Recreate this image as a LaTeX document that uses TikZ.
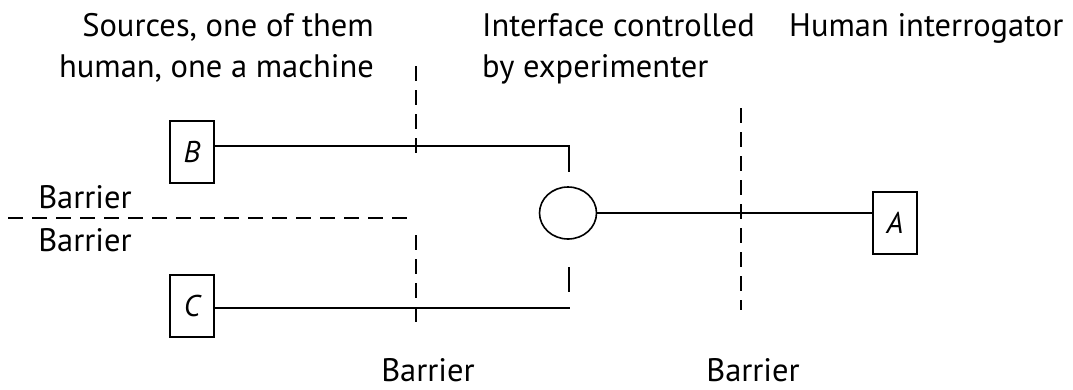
\documentclass[tikz,border=0pt]{standalone}
\usepackage{fontspec}
\setmainfont{PT Sans}
\usetikzlibrary{shapes.geometric}
\begin{document}
\begin{tikzpicture}[x=1pt,y=-1pt,
  every node/.style={font=\fontsize{32.5}{40}\selectfont, inner sep=0pt},
  agent/.style={draw, line width=2.6pt, minimum width=44pt, minimum height=62pt, font=\fontsize{30}{32}\selectfont\itshape},
  wire/.style={line width=1.6pt},
  barrier/.style={line width=1.6pt, dash pattern=on 15pt off 9pt},
  lbl/.style={anchor=base}]
\useasboundingbox (0,0) rectangle (1073,389);

% headings
\node[lbl, anchor=base east] (src1) at (374,36) {Sources, one of them};
\node[lbl, anchor=base east] (src2) at (374,77) {human, one a machine};
\node[lbl, anchor=base west] (ifc1) at (482,36) {Interface controlled};
\node[lbl, anchor=base west] (ifc2) at (482,77) {by experimenter};
\node[lbl, anchor=base west] (hum) at (789,36) {Human interrogator};

% participants
\node[agent] (B) at (192,152) {B};
\node[agent] (C) at (192,306) {C};
\node[agent] (A) at (895,223) {A};
\node[draw, ellipse, line width=1.6pt, minimum width=57pt, minimum height=52pt] (I) at (568,213) {};

% connections
\coordinate (bturn) at (569,146);
\coordinate (bend) at (569,172);
\coordinate (cend) at (570,308);
\draw[wire] (B.east |- bturn) -- (bturn) -- (bend);
\draw[wire] (C.east |- cend) -- (cend);
\draw[wire] (I.east) -- (A.west |- I.east);

% barriers
\coordinate (l1) at (416,66);
\coordinate (l2) at (416,154);
\coordinate (l3) at (8,218);
\coordinate (l4) at (414,218);
\coordinate (l5) at (416,235);
\coordinate (l6) at (416,324);
\coordinate (m1) at (569,267);
\coordinate (m2) at (569,292);
\coordinate (r1) at (741,108);
\coordinate (r2) at (741,310);
\draw[barrier] (l1) -- (l2);
\draw[barrier] (l3) -- (l4);
\draw[barrier] (l5) -- (l6);
\draw[wire] (m1) -- (m2);
\draw[barrier] (r1) -- (r2);

% barrier labels
\node[lbl] (bl1) at (85,208) {Barrier};
\node[lbl] (bl2) at (85,251) {Barrier};
\node[lbl] (bl3) at (428,381) {Barrier};
\node[lbl] (bl4) at (753,381) {Barrier};
\end{tikzpicture}
\end{document}
